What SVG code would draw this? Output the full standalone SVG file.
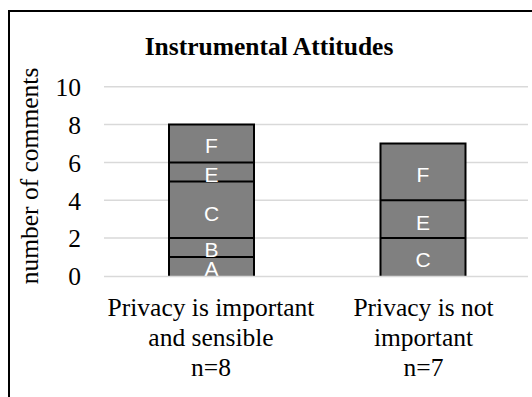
<svg xmlns="http://www.w3.org/2000/svg" width="532" height="397" viewBox="0 0 532 397">
  <style>
    .serif { font-family: "Liberation Serif", "Times New Roman", serif; fill: #000; }
    .tick { font-size: 25.5px; text-anchor: end; }
    .cat { font-size: 25.5px; text-anchor: middle; }
    .title { font-size: 25.5px; font-weight: bold; text-anchor: middle; }
    .grid { stroke: #d9d9d9; stroke-width: 1.5; fill: none; }
    .seg { fill: #808080; stroke: none; }
    .edge { stroke: #000; stroke-width: 2; fill: none; }
    .lbl { font-family: "Liberation Sans", Arial, sans-serif; font-size: 21px; fill: #fff; text-anchor: middle; }
  </style>
  <rect width="532" height="397" fill="#fff"/>
  <g id="frame">
    <path d="M9,397 V11 H532" fill="none" stroke="#000" stroke-width="2"/>
  </g>
  <g id="title">
    <text class="serif title" x="269" y="55">Instrumental Attitudes</text>
  </g>
  <g id="y-axis">
    <text class="serif" font-size="25.5" text-anchor="middle" transform="translate(38,176) rotate(-90)">number of comments</text>
    <text class="serif tick" x="81" y="96">10</text>
    <text class="serif tick" x="81" y="134">8</text>
    <text class="serif tick" x="81" y="172">6</text>
    <text class="serif tick" x="81" y="210">4</text>
    <text class="serif tick" x="81" y="247">2</text>
    <text class="serif tick" x="81" y="285">0</text>
  </g>
  <g id="gridlines">
    <line class="grid" x1="104" y1="86.7" x2="528" y2="86.7"/>
    <line class="grid" x1="104" y1="124.6" x2="528" y2="124.6"/>
    <line class="grid" x1="104" y1="162.4" x2="528" y2="162.4"/>
    <line class="grid" x1="104" y1="200.3" x2="528" y2="200.3"/>
    <line class="grid" x1="104" y1="238.1" x2="528" y2="238.1"/>
  </g>
  <g id="bar1">
    <rect class="seg" x="169" y="124.6" width="85" height="151.4"/>
    <path class="edge" d="M169,276 V124.6 H254 V276 M169,162.4 H254 M169,181.4 H254 M169,238.1 H254 M169,257.1 H254"/>
    <text class="lbl" x="211.5" y="153">F</text>
    <text class="lbl" x="211.5" y="182">E</text>
    <text class="lbl" x="211.5" y="221">C</text>
    <text class="lbl" x="211.5" y="256.5">B</text>
    <text class="lbl" x="211.5" y="275.5">A</text>
  </g>
  <g id="bar2">
    <rect class="seg" x="380.5" y="143.5" width="85" height="132.5"/>
    <path class="edge" d="M380.5,276 V143.5 H465.5 V276 M380.5,200.3 H465.5 M380.5,238.1 H465.5"/>
    <text class="lbl" x="423" y="181.5">F</text>
    <text class="lbl" x="423" y="229.5">E</text>
    <text class="lbl" x="423" y="266.5">C</text>
  </g>
  <g id="baseline">
    <line class="grid" x1="104" y1="276.5" x2="528" y2="276.5"/>
  </g>
  <g id="categories">
    <text class="serif cat" x="211" y="316">Privacy is important</text>
    <text class="serif cat" x="211" y="346">and sensible</text>
    <text class="serif cat" x="211" y="376">n=8</text>
    <text class="serif cat" x="423.5" y="316">Privacy is not</text>
    <text class="serif cat" x="423.5" y="346">important</text>
    <text class="serif cat" x="423.5" y="376">n=7</text>
  </g>
</svg>
